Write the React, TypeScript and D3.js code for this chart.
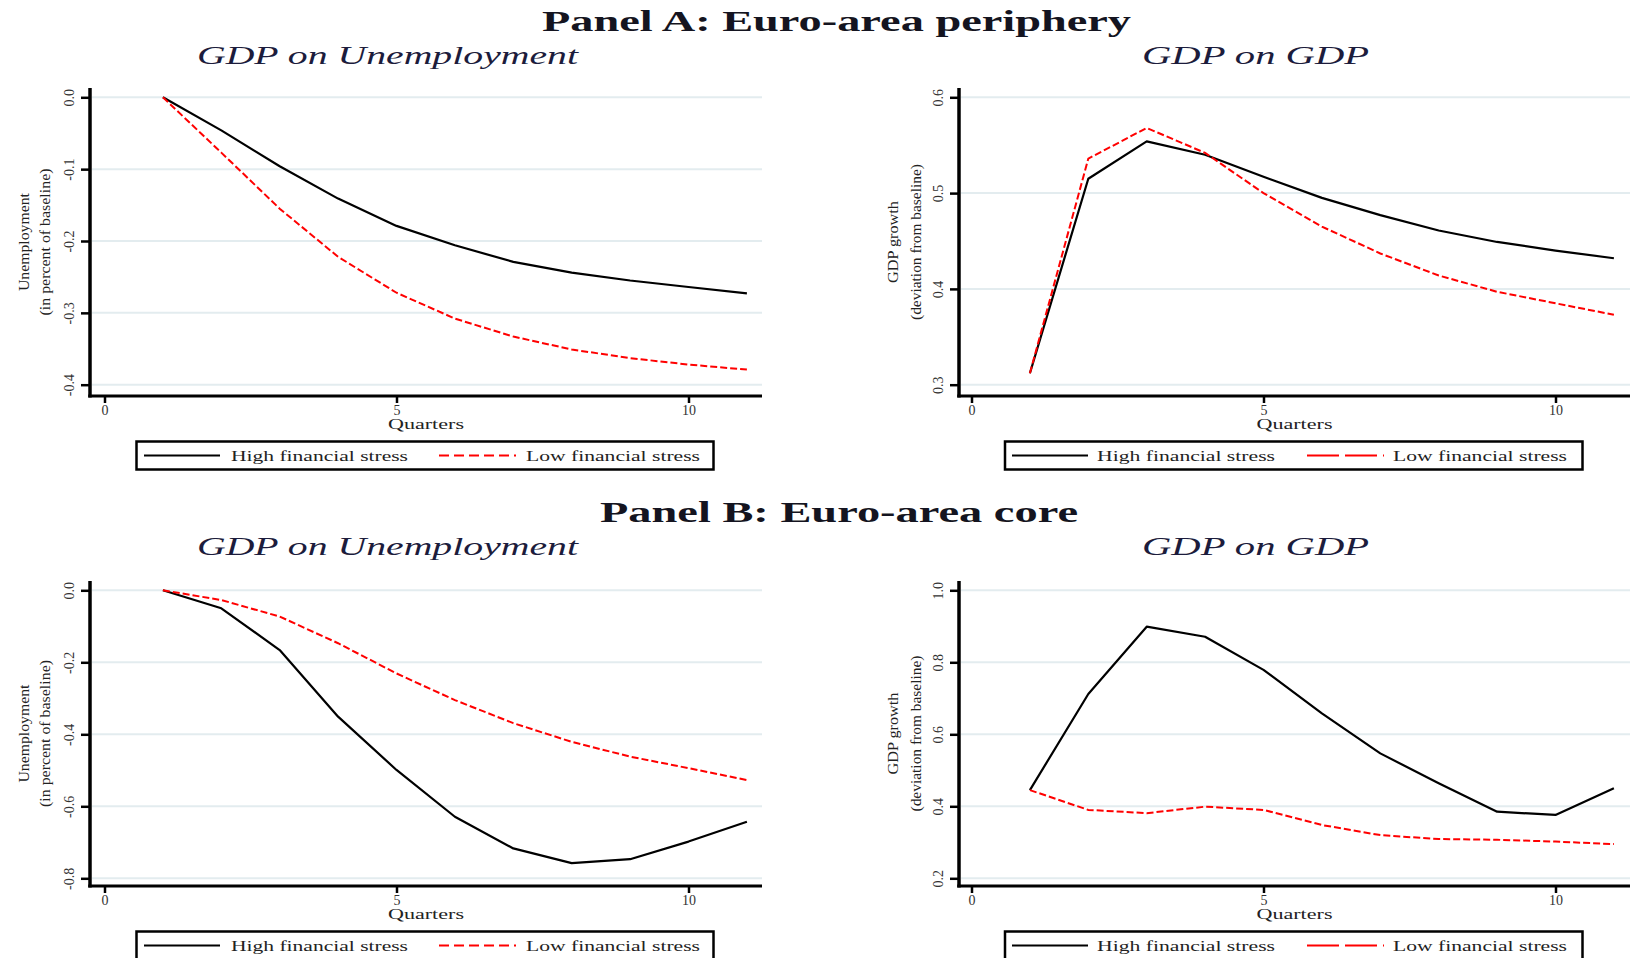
import * as d3 from "d3";
import React, { useEffect, useRef } from "react";

// quarters after the shock
const quarters = [1, 2, 3, 4, 5, 6, 7, 8, 9, 10, 11];

// Panel A: Euro-area periphery
const periUnempHigh = [0, -0.046, -0.096, -0.141, -0.179, -0.206, -0.229, -0.244, -0.255, -0.264, -0.273];
const periUnempLow = [0, -0.077, -0.155, -0.222, -0.272, -0.308, -0.333, -0.351, -0.363, -0.372, -0.379];
const periGdpHigh = [0.312, 0.515, 0.554, 0.54, 0.517, 0.495, 0.477, 0.461, 0.449, 0.44, 0.432];
const periGdpLow = [0.312, 0.536, 0.568, 0.542, 0.5, 0.465, 0.437, 0.414, 0.397, 0.385, 0.373];

// Panel B: Euro-area core
const coreUnempHigh = [0, -0.05, -0.166, -0.351, -0.499, -0.629, -0.717, -0.758, -0.747, -0.698, -0.643];
const coreUnempLow = [0, -0.027, -0.073, -0.147, -0.231, -0.305, -0.369, -0.421, -0.462, -0.494, -0.527];
const coreGdpHigh = [0.445, 0.712, 0.899, 0.871, 0.779, 0.658, 0.547, 0.464, 0.385, 0.376, 0.45];
const coreGdpLow = [0.445, 0.39, 0.381, 0.399, 0.39, 0.348, 0.32, 0.309, 0.307, 0.302, 0.295];

const xTicks = [0, 5, 10];
const unempTicksA = [0, -0.1, -0.2, -0.3, -0.4];
const unempLabelsA = ["0.0", "-0.1", "-0.2", "-0.3", "-0.4"];
const gdpTicksA = [0.6, 0.5, 0.4, 0.3];
const gdpLabelsA = ["0.6", "0.5", "0.4", "0.3"];
const unempTicksB = [0, -0.2, -0.4, -0.6, -0.8];
const unempLabelsB = ["0.0", "-0.2", "-0.4", "-0.6", "-0.8"];
const gdpTicksB = [1.0, 0.8, 0.6, 0.4, 0.2];
const gdpLabelsB = ["1.0", "0.8", "0.6", "0.4", "0.2"];

const panelTitles = ["Panel A: Euro-area periphery", "Panel B: Euro-area core"];
const subTitles = ["GDP on Unemployment", "GDP on GDP"];
const yTitles = [
  ["Unemployment", "(in percent of baseline)"],
  ["GDP growth", "(deviation from baseline)"],
];
const seriesNames = ["High financial stress", "Low financial stress"];
const xTitle = "Quarters";

const W = 1630;
const H = 958;
const SERIF = "'Liberation Serif', 'Times New Roman', serif";
const INK = "#141420";

// layout of the two columns / two rows
const cols = [
  {
    axisX: 90, right: 762, x0: 104.5, subX: 197, subLen: 381,
    yt1: 29, yt1Len: 98, yt2: 50, yt2Len: 147,
    box: [136.5, 713.5], black: [144, 220], hiX: 231, hiLen: 177,
    red: [439, 516], loX: 526, loLen: 174, legDash: "10,5",
  },
  {
    axisX: 959, right: 1630, x0: 971.5, subX: 1142, subLen: 227,
    yt1: 898, yt1Len: 82, yt2: 921, yt2Len: 156,
    box: [1005, 1582.5], black: [1012, 1088], hiX: 1097, hiLen: 178,
    red: [1307, 1384], loX: 1393, loLen: 174, legDash: "32,6",
  },
];
const rows = [
  { titleX: 542, titleLen: 589, titleY: 30.5, subY: 64, axisTop: 88, tickTop: 97.3, tickBottom: 384.7, axisBottom: 396 },
  { titleX: 600, titleLen: 478, titleY: 521.5, subY: 555, axisTop: 581, tickTop: 590.3, tickBottom: 878.3, axisBottom: 886 },
];

const panels = [
  { row: 0, col: 0, high: periUnempHigh, low: periUnempLow, ticks: unempTicksA, labels: unempLabelsA },
  { row: 0, col: 1, high: periGdpHigh, low: periGdpLow, ticks: gdpTicksA, labels: gdpLabelsA },
  { row: 1, col: 0, high: coreUnempHigh, low: coreUnempLow, ticks: unempTicksB, labels: unempLabelsB },
  { row: 1, col: 1, high: coreGdpHigh, low: coreGdpLow, ticks: gdpTicksB, labels: gdpLabelsB },
];

function drawChart(node: SVGSVGElement) {
  const svg = d3.select(node);
  svg.selectAll("*").remove();

  svg.append("rect").attr("width", W).attr("height", H).attr("fill", "#fff");

  // panel titles (wide, computer-modern-ish look -> stretch the glyphs)
  rows.forEach((r, i) => {
    svg.append("text")
      .attr("x", r.titleX).attr("y", r.titleY)
      .attr("textLength", r.titleLen).attr("lengthAdjust", "spacingAndGlyphs")
      .style("font-family", SERIF).style("font-size", "29px").style("font-weight", "bold")
      .attr("fill", INK)
      .text(panelTitles[i]);
  });

  panels.forEach((p) => {
    const c = cols[p.col];
    const r = rows[p.row];
    const g = svg.append("g");

    const x = d3.scaleLinear().domain([0, 10]).range([c.x0, c.x0 + 584]);
    const y = d3.scaleLinear()
      .domain([p.ticks[p.ticks.length - 1], p.ticks[0]])
      .range([r.tickBottom, r.tickTop]);

    // subtitle
    g.append("text")
      .attr("x", c.subX).attr("y", r.subY)
      .attr("textLength", c.subLen).attr("lengthAdjust", "spacingAndGlyphs")
      .style("font-family", SERIF).style("font-size", "26px").style("font-style", "italic")
      .attr("fill", "#1c1c3c")
      .text(subTitles[p.col]);

    // gridlines
    g.append("g").selectAll("line").data(p.ticks).join("line")
      .attr("x1", c.axisX + 2).attr("x2", c.right)
      .attr("y1", (d) => y(d)).attr("y2", (d) => y(d))
      .attr("stroke", "#e3ecef").attr("stroke-width", 2);

    // y axis ticks + rotated labels
    const yAxis = g.append("g")
      .attr("transform", `translate(${c.axisX},0)`)
      .call(d3.axisLeft(y).tickValues(p.ticks).tickSize(9).tickFormat((_d, i) => p.labels[i]));
    yAxis.select(".domain").remove();
    yAxis.attr("font-family", SERIF).attr("font-size", 14);
    yAxis.selectAll(".tick line").attr("stroke", "#000").attr("stroke-width", 2.5);
    yAxis.selectAll(".tick text")
      .attr("x", 0).attr("dy", null).attr("y", -16)
      .attr("transform", "rotate(-90)")
      .attr("text-anchor", "middle")
      .attr("fill", "#333");

    // x axis ticks + labels
    const xAxis = g.append("g")
      .attr("transform", `translate(0,${r.axisBottom})`)
      .call(d3.axisBottom(x).tickValues(xTicks).tickSize(7).tickPadding(2));
    xAxis.select(".domain").remove();
    xAxis.attr("font-family", SERIF).attr("font-size", 14);
    xAxis.selectAll(".tick line").attr("stroke", "#000").attr("stroke-width", 2.5);
    xAxis.selectAll(".tick text").attr("fill", "#333");

    // axis lines
    g.append("line")
      .attr("x1", c.axisX).attr("x2", c.axisX)
      .attr("y1", r.axisTop).attr("y2", r.axisBottom + 1.5)
      .attr("stroke", "#000").attr("stroke-width", 3.5);
    g.append("line")
      .attr("x1", c.axisX - 1.75).attr("x2", c.right)
      .attr("y1", r.axisBottom).attr("y2", r.axisBottom)
      .attr("stroke", "#000").attr("stroke-width", 3);

    // axis titles
    g.append("text")
      .attr("text-anchor", "middle")
      .attr("x", (c.axisX + c.right) / 2).attr("y", r.axisBottom + 33)
      .attr("textLength", 76).attr("lengthAdjust", "spacingAndGlyphs")
      .style("font-family", SERIF).style("font-size", "15px")
      .attr("fill", "#222")
      .text(xTitle);

    const midY = (r.axisTop + r.axisBottom) / 2;
    [[c.yt1, c.yt1Len], [c.yt2, c.yt2Len]].forEach(([bx, len], i) => {
      g.append("text")
        .attr("transform", `translate(${bx},${midY}) rotate(-90)`)
        .attr("text-anchor", "middle")
        .attr("textLength", len).attr("lengthAdjust", "spacingAndGlyphs")
        .style("font-family", SERIF).style("font-size", "15px")
        .attr("fill", "#222")
        .text(yTitles[p.col][i]);
    });

    // series
    const line = d3.line<number>()
      .x((_d, i) => x(quarters[i]))
      .y((d) => y(d));

    g.append("path")
      .datum(p.high)
      .attr("fill", "none")
      .attr("stroke", "#000")
      .attr("stroke-width", 2.2)
      .attr("stroke-linejoin", "round")
      .attr("d", line);

    g.append("path")
      .datum(p.low)
      .attr("fill", "none")
      .attr("stroke", "#ff0000")
      .attr("stroke-width", 2)
      .attr("stroke-dasharray", "7,3")
      .attr("d", line);

    // legend
    const boxTop = r.axisBottom + 45.5;
    const midL = boxTop + 14;
    g.append("rect")
      .attr("x", c.box[0]).attr("y", boxTop)
      .attr("width", c.box[1] - c.box[0]).attr("height", 28)
      .attr("fill", "#fff").attr("stroke", "#000").attr("stroke-width", 2.5);
    g.append("line")
      .attr("x1", c.black[0]).attr("x2", c.black[1]).attr("y1", midL).attr("y2", midL)
      .attr("stroke", "#000").attr("stroke-width", 2.2);
    g.append("line")
      .attr("x1", c.red[0]).attr("x2", c.red[1]).attr("y1", midL).attr("y2", midL)
      .attr("stroke", "#ff0000").attr("stroke-width", 2.2)
      .attr("stroke-dasharray", c.legDash);
    [[c.hiX, c.hiLen], [c.loX, c.loLen]].forEach(([lx, len], i) => {
      g.append("text")
        .attr("x", lx).attr("y", midL + 5)
        .attr("textLength", len).attr("lengthAdjust", "spacingAndGlyphs")
        .style("font-family", SERIF).style("font-size", "15px")
        .attr("fill", "#222")
        .text(seriesNames[i]);
    });
  });
}

export default function App() {
  const ref = useRef<SVGSVGElement>(null);

  useEffect(() => {
    if (ref.current) drawChart(ref.current);
  }, []);

  return (
    <div style={{ position: "absolute", left: 0, top: 0 }}>
      <svg ref={ref} width={W} height={H} style={{ display: "block" }} />
    </div>
  );
}
